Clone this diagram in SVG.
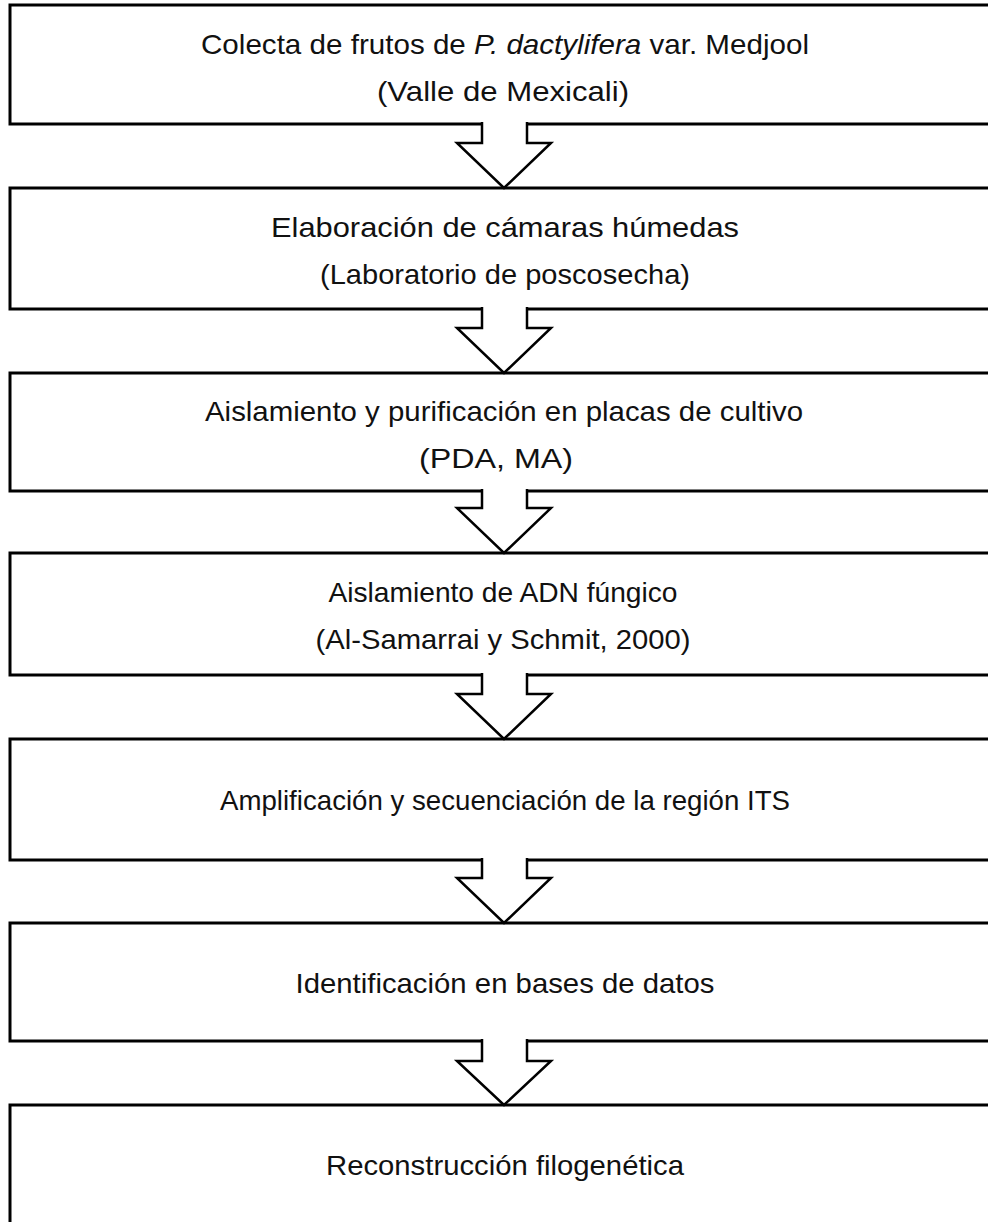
<svg xmlns="http://www.w3.org/2000/svg" width="988" height="1222" viewBox="0 0 988 1222">
<style>
.box{fill:#fff;stroke:#000;stroke-width:3}
.t{font-family:"Liberation Sans",Arial,sans-serif;font-size:28px;fill:#111;text-anchor:middle}
.arr{fill:#fff;stroke:#000;stroke-width:2.5;stroke-linejoin:miter}
</style>
<rect width="988" height="1222" fill="#fff"/>
<g id="n1"><rect class="box" x="10" y="5" width="1000" height="119"/>
<text class="t" x="505" y="54" textLength="608" lengthAdjust="spacingAndGlyphs">Colecta de frutos de <tspan font-style="italic">P. dactylifera</tspan> var. Medjool</text>
<text class="t" x="503" y="101" textLength="252" lengthAdjust="spacingAndGlyphs">(Valle de Mexicali)</text></g>
<g id="n2"><rect class="box" x="10" y="188" width="1000" height="121"/>
<text class="t" x="505" y="237" textLength="468" lengthAdjust="spacingAndGlyphs">Elaboración de cámaras húmedas</text>
<text class="t" x="505" y="284" textLength="370" lengthAdjust="spacingAndGlyphs">(Laboratorio de poscosecha)</text></g>
<g id="n3"><rect class="box" x="10" y="373" width="1000" height="118"/>
<text class="t" x="504" y="421" textLength="598" lengthAdjust="spacingAndGlyphs">Aislamiento y purificación en placas de cultivo</text>
<text class="t" x="496" y="468" textLength="154" lengthAdjust="spacingAndGlyphs">(PDA, MA)</text></g>
<g id="n4"><rect class="box" x="10" y="553" width="1000" height="122"/>
<text class="t" x="503" y="602" textLength="349" lengthAdjust="spacingAndGlyphs">Aislamiento de ADN fúngico</text>
<text class="t" x="503" y="649" textLength="375" lengthAdjust="spacingAndGlyphs">(Al-Samarrai y Schmit, 2000)</text></g>
<g id="n5"><rect class="box" x="10" y="739" width="1000" height="121"/>
<text class="t" x="505" y="810" textLength="570" lengthAdjust="spacingAndGlyphs">Amplificación y secuenciación de la región ITS</text></g>
<g id="n6"><rect class="box" x="10" y="923" width="1000" height="118"/>
<text class="t" x="505" y="993" textLength="419" lengthAdjust="spacingAndGlyphs">Identificación en bases de datos</text></g>
<g id="n7"><rect class="box" x="10" y="1105" width="1000" height="130"/>
<text class="t" x="505" y="1175" textLength="358" lengthAdjust="spacingAndGlyphs">Reconstrucción filogenética</text></g>
<g id="connectors">
<path class="arr" d="M482,122 V143 H457 L504,188 L551,143 H527 V122"/>
<path class="arr" d="M482,307 V328 H457 L504,373 L551,328 H527 V307"/>
<path class="arr" d="M482,489 V508 H457 L504,553 L551,508 H527 V489"/>
<path class="arr" d="M482,673 V694 H457 L504,739 L551,694 H527 V673"/>
<path class="arr" d="M482,858 V878 H457 L504,923 L551,878 H527 V858"/>
<path class="arr" d="M482,1039 V1061 H457 L504,1105 L551,1061 H527 V1039"/>
</g>
</svg>
